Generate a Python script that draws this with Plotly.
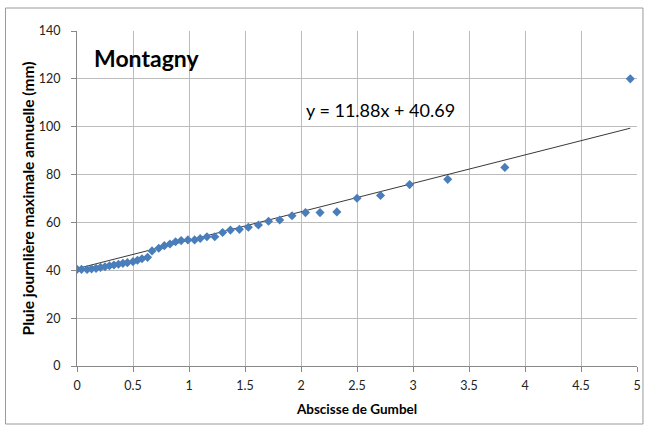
import plotly.graph_objects as go

# Gumbel reduced variate and annual maximum daily rainfall (mm), Montagny
gumbel_x = [0.00, 0.04, 0.09, 0.13, 0.17, 0.21, 0.25, 0.29, 0.33, 0.37, 0.41,
            0.45, 0.50, 0.54, 0.58, 0.63, 0.67, 0.73, 0.78, 0.83, 0.88, 0.93,
            0.99, 1.05, 1.10, 1.16, 1.23, 1.30, 1.37, 1.45, 1.53, 1.62, 1.71,
            1.81, 1.92, 2.04, 2.17, 2.32, 2.50, 2.71, 2.97, 3.31, 3.82, 4.94]
rain_mm = [40.4, 40.4, 40.3, 40.6, 40.8, 41.2, 41.5, 41.9, 42.2, 42.5, 42.9,
           43.2, 43.6, 44.2, 44.8, 45.4, 48.1, 49.2, 50.3, 51.0, 51.9, 52.4,
           52.7, 52.7, 53.3, 54.0, 54.0, 55.8, 56.8, 57.1, 58.0, 58.9, 60.5,
           61.0, 62.8, 64.1, 64.1, 64.4, 70.1, 71.3, 75.8, 78.0, 83.0, 120.0]

# Linear trend: y = slope * x + intercept
slope = 11.88
intercept = 40.69

x_ticks = [0, 0.5, 1, 1.5, 2, 2.5, 3, 3.5, 4, 4.5, 5]
x_tick_text = ["0", "0.5", "1", "1.5", "2", "2.5", "3", "3.5", "4", "4.5", "5"]
y_ticks = [0, 20, 40, 60, 80, 100, 120, 140]

W, H = 652, 432
ML, MR, MT, MB = 77, 11, 31, 66
pw, ph = W - ML - MR, H - MT - MB

def px_to_paper_x(px):
    return (px - ML) / pw

def px_to_paper_y(py):
    return (H - MB - py) / ph

FONT = "Lato"

trend_x = [gumbel_x[0], gumbel_x[-1]]
trend_y = [slope * v + intercept for v in trend_x]

fig = go.Figure()
fig.add_trace(go.Scatter(
    x=trend_x, y=trend_y, mode="lines",
    line=dict(color="#222222", width=0.9),
    hoverinfo="skip", showlegend=False,
))
fig.add_trace(go.Scatter(
    x=gumbel_x, y=rain_mm, mode="markers",
    marker=dict(symbol="diamond", size=7, color="#4a7ebb",
                line=dict(width=0)),
    showlegend=False,
))

fig.update_layout(
    width=W, height=H,
    margin=dict(l=ML, r=MR, t=MT, b=MB),
    paper_bgcolor="white", plot_bgcolor="white",
    font=dict(family=FONT, color="#000000"),
    xaxis=dict(
        range=[0, 5], tickvals=x_ticks, ticktext=x_tick_text,
        showgrid=True, gridcolor="#bcbcbc", gridwidth=1,
        zeroline=False, showline=True, linecolor="#888888", linewidth=1,
        ticks="outside", ticklen=5, tickcolor="#888888",
        ticklabelstandoff=3,
        tickfont=dict(size=12.5, family=FONT, color="#222222"),
        title=dict(text="<b>Abscisse de Gumbel</b>",
                   font=dict(size=13.5, family=FONT), standoff=12),
    ),
    yaxis=dict(
        range=[0, 140], tickvals=y_ticks,
        showgrid=True, gridcolor="#bcbcbc", gridwidth=1,
        zeroline=False, showline=True, linecolor="#888888", linewidth=1,
        ticks="outside", ticklen=5, tickcolor="#888888",
        ticklabelstandoff=8,
        tickfont=dict(size=12.5, family=FONT, color="#222222"),
        title=dict(text="<b>Pluie journlière maximale annuelle (mm)</b>",
                   font=dict(size=15.5, family=FONT), standoff=0),
    ),
    annotations=[
        dict(text="<b>Montagny</b>", xref="paper", yref="paper",
             x=px_to_paper_x(92), y=px_to_paper_y(58),
             xanchor="left", yanchor="middle", showarrow=False,
             font=dict(size=23, family=FONT, color="#000000")),
        dict(text=f"y = {slope}x + {intercept}", xref="paper", yref="paper",
             x=px_to_paper_x(306), y=px_to_paper_y(110),
             xanchor="left", yanchor="middle", showarrow=False,
             font=dict(size=18, family=FONT, color="#000000")),
    ],
    shapes=[
        dict(type="rect", xref="paper", yref="paper", layer="below",
             x0=px_to_paper_x(5), x1=px_to_paper_x(647),
             y0=px_to_paper_y(424), y1=px_to_paper_y(8),
             line=dict(color="#9a9a9a", width=1), fillcolor="rgba(0,0,0,0)"),
    ],
)

fig.write_html("out.html")
